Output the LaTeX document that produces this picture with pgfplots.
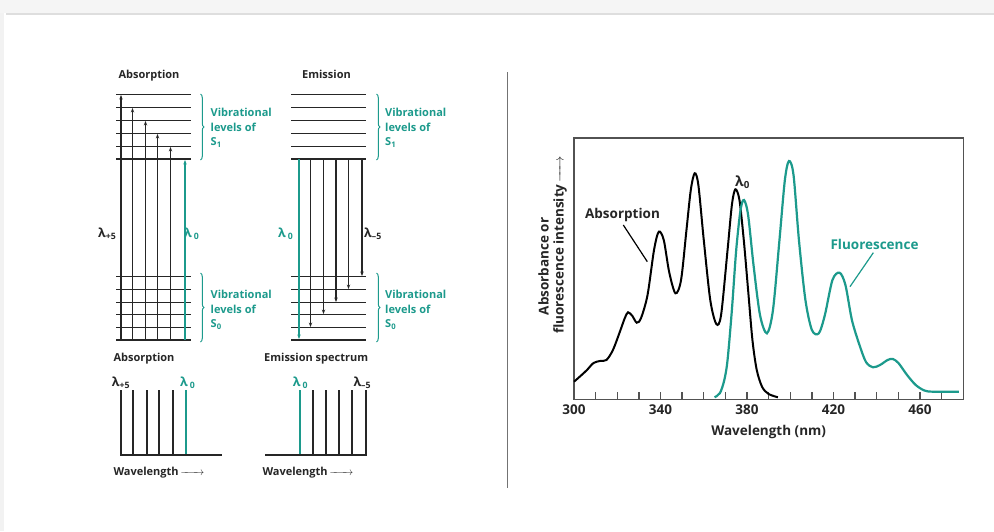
\documentclass[border=0pt]{standalone}
\usepackage{fontspec}
\setmainfont{Open Sans}
\usepackage{pgfplots}
\pgfplotsset{compat=1.18}
\usetikzlibrary{arrows.meta,decorations.pathreplacing}
\definecolor{tl}{RGB}{28,154,140}
\definecolor{dk}{RGB}{38,38,38}
\newcommand{\fs}[1]{\fontsize{#1}{#1}\selectfont\bfseries}
\newcommand{\longarr}[1]{\hbox to #1{\rightarrowfill}}
\pgfplotsset{
  lev/.style={dk, line width=1.85pt},
  gnd/.style={dk, line width=2.5pt},
  vl/.style={dk, line width=1.4pt},
  ar/.style={-{Stealth[length=4.5pt,width=3.4pt]}},
}
\begin{document}
\begin{tikzpicture}
\begin{axis}[name=bg, at={(0,0)}, anchor=south west, scale only axis,
  width=994pt, height=531pt, xmin=0, xmax=994, ymin=0, ymax=531,
  y dir=reverse, hide axis, clip=false]
% page background
\addplot[fill=white, draw=none] coordinates {(0,0) (994,0) (994,531) (0,531)} -- cycle;
\addplot[fill=black!4, draw=none] coordinates {(0,0) (994,0) (994,13) (0,13)} -- cycle;
\addplot[black!13, line width=1.5pt] coordinates {(6,13.8) (994,13.8)};
\addplot[fill=black!5, draw=none] coordinates {(0,13) (4,13) (4,531) (0,531)} -- cycle;
% divider
\addplot[black!55, line width=0.8pt] coordinates {(507.3,72) (507.3,488)};

% ===== energy diagrams =====
\pgfplotsinvokeforeach{94.5,107.5,120.5,133.5,146.5,276.5,289.5,302.5,314.5,327.5}{
  \addplot[lev] coordinates {(116,#1) (191,#1)};
  \addplot[lev] coordinates {(291,#1) (366,#1)};
}
\addplot[gnd] coordinates {(116,159) (191,159)};
\addplot[gnd] coordinates {(116,340) (191,340)};
\addplot[gnd] coordinates {(291,159) (366,159)};
\addplot[gnd] coordinates {(291,340) (366,340)};
% absorption arrows
\addplot[vl, ar] coordinates {(121,340) (121,95)};
\addplot[vl, ar] coordinates {(132.5,340) (132.5,108)};
\addplot[vl, ar] coordinates {(145.5,340) (145.5,121)};
\addplot[vl, ar] coordinates {(157.5,340) (157.5,134)};
\addplot[vl, ar] coordinates {(170.5,340) (170.5,147)};
\addplot[tl, line width=1.5pt, ar] coordinates {(185,340) (185,160)};
% emission arrows
\addplot[tl, line width=1.5pt, ar] coordinates {(299,159) (299,339)};
\addplot[vl, ar] coordinates {(310.5,159) (310.5,327)};
\addplot[vl, ar] coordinates {(323.5,159) (323.5,314)};
\addplot[vl, ar] coordinates {(336,159) (336,302)};
\addplot[vl, ar] coordinates {(348.5,159) (348.5,289)};
\addplot[vl, ar] coordinates {(362,159) (362,276)};
% braces
\draw[tl, line width=1pt, decorate, decoration={brace, amplitude=3.5pt}] (axis cs:200.5,94) -- (axis cs:200.5,160);
\draw[tl, line width=1pt, decorate, decoration={brace, amplitude=3.5pt}] (axis cs:200.5,273) -- (axis cs:200.5,342);
\draw[tl, line width=1pt, decorate, decoration={brace, amplitude=3.5pt}] (axis cs:376.5,94) -- (axis cs:376.5,160);
\draw[tl, line width=1pt, decorate, decoration={brace, amplitude=3.5pt}] (axis cs:376.5,273) -- (axis cs:376.5,342);
% titles
\node[anchor=base, inner sep=0, font=\fs{11}, text=dk] at (axis cs:149,78.5) {Absorption};
\node[anchor=base, inner sep=0, font=\fs{11}, text=dk] at (axis cs:326.5,78.5) {Emission};
% brace texts
\pgfplotsinvokeforeach{210.5,385}{
  \node[anchor=base west, inner sep=0, font=\fs{11}, text=tl] at (axis cs:#1,116.5) {Vibrational};
  \node[anchor=base west, inner sep=0, font=\fs{11}, text=tl] at (axis cs:#1,131.5) {levels of};
  \node[anchor=base west, inner sep=0, font=\fs{11}, text=tl] at (axis cs:#1,145.5) {S\textsubscript{1}};
  \node[anchor=base west, inner sep=0, font=\fs{11}, text=tl] at (axis cs:#1,298.3) {Vibrational};
  \node[anchor=base west, inner sep=0, font=\fs{11}, text=tl] at (axis cs:#1,313.3) {levels of};
  \node[anchor=base west, inner sep=0, font=\fs{11}, text=tl] at (axis cs:#1,327.3) {S\textsubscript{0}};
}
% lambda labels (diagram)
\node[anchor=base west, inner sep=0, font=\fs{12.5}, text=dk] at (axis cs:98,237) {λ\textsubscript{+5}};
\node[anchor=base west, inner sep=0, font=\fs{12.5}, text=tl] at (axis cs:184,237) {λ\,\textsubscript{0}};
\node[anchor=base west, inner sep=0, font=\fs{12.5}, text=tl] at (axis cs:278,237) {λ\,\textsubscript{0}};
\node[anchor=base west, inner sep=0, font=\fs{12.5}, text=dk] at (axis cs:364,237) {λ\textsubscript{–5}};

% ===== line spectra =====
\node[anchor=base west, inner sep=0, font=\fs{11}, text=dk] at (axis cs:113.3,361.5) {Absorption};
\node[anchor=base west, inner sep=0, font=\fs{11}, text=dk] at (axis cs:264,361.5) {Emission spectrum};
\node[anchor=base west, inner sep=0, font=\fs{12.5}, text=dk] at (axis cs:111.7,386) {λ\textsubscript{+5}};
\node[anchor=base west, inner sep=0, font=\fs{12.5}, text=tl] at (axis cs:180,386) {λ\,\textsubscript{0}};
\node[anchor=base west, inner sep=0, font=\fs{12.5}, text=tl] at (axis cs:292.7,386) {λ\,\textsubscript{0}};
\node[anchor=base west, inner sep=0, font=\fs{12.5}, text=dk] at (axis cs:353.3,386) {λ\textsubscript{–5}};
\addplot[gnd, line width=2pt] coordinates {(120.7,390) (120.7,455) (221.7,455)};
\pgfplotsinvokeforeach{133.3,146.7,159.3,172.7}{
  \addplot[dk, line width=1.9pt] coordinates {(#1,390) (#1,455)};
}
\addplot[tl, line width=1.9pt] coordinates {(186,390) (186,454)};
\addplot[gnd, line width=2pt] coordinates {(265,455) (365.7,455) (365.7,390)};
\pgfplotsinvokeforeach{312.7,326,339.3,352.3}{
  \addplot[dk, line width=1.9pt] coordinates {(#1,390) (#1,455)};
}
\addplot[tl, line width=1.9pt] coordinates {(300,390) (300,454)};
\node[anchor=base west, inner sep=0, font=\fs{11}, text=dk] at (axis cs:113.3,475) {Wavelength\,\longarr{24pt}};
\node[anchor=base west, inner sep=0, font=\fs{11}, text=dk] at (axis cs:262.3,475) {Wavelength\,\longarr{24pt}};

% ===== spectrum chart annotations =====
\node[rotate=90, inner sep=0, font=\fs{13.5}, text=dk] at (axis cs:543.5,266.5) {Absorbance or};
\node[rotate=90, inner sep=0, font=\fs{13.5}, text=dk] at (axis cs:560,245) {fluorescence intensity\,\longarr{26pt}};
\node[inner sep=0, font=\fs{13.5}, text=dk] at (axis cs:622.5,215) {Absorption};
\node[inner sep=0, font=\fs{14}, text=dk] at (axis cs:742.5,182) {λ\textsubscript{0}};
\node[inner sep=0, font=\fs{13.5}, text=tl] at (axis cs:874.5,244) {Fluorescence};
\end{axis}

\begin{axis}[at={(574pt,131.7pt)}, anchor=south west, scale only axis,
  width=389.3pt, height=261pt, xmin=300, xmax=480, ymin=0, ymax=261,
  axis line style={black!68, line width=1.6pt},
  xtick={300,340,...,460}, minor xtick={310,320,...,470}, ytick=\empty,
  tick align=inside, xtick pos=bottom,
  major tick length=7pt, minor tick length=7pt,
  tick style={black!68, line width=1.4pt},
  every minor tick/.style={black!68, line width=1.4pt},
  xticklabel style={font=\fs{13.5}, text=dk, yshift=-1.5pt},
  /pgf/number format/assume math mode=true, /pgf/number format/1000 sep={},
  xlabel={Wavelength (nm)},
  xlabel style={font=\fs{13.5}, text=dk, at={(axis description cs:0.5,0)}, anchor=center, yshift=-32.7pt},
  clip=false]
\addplot[black, line width=2pt, smooth, tension=0.5] coordinates {
(300,17.6) (303,23.3) (306,29.3) (309,36.3) (312,38.3) (315,39.3) (318,49.3)
(321,66.3) (323.5,81.3) (325,87) (327,83.3) (329,76.6) (331,81.3) (334,104.3)
(337,149.3) (339.2,167.6) (341.5,159.3) (344,127.3) (346.9,106) (349.5,119.3)
(352,169.3) (354,209.3) (355.8,226) (357.5,214.3) (360,159.3) (363,99.3)
(365.8,75.3) (368,84.3) (371,149.3) (373,194.3) (374.6,210) (376.5,199.3)
(378.5,159.3) (380.5,109.3) (382.5,59.3) (384.5,29.3) (387,12.3) (390,5.3) (394.3,2)
};
\addplot[tl, line width=2.2pt, smooth, tension=0.5] coordinates {
(365,2) (367.5,6.3) (369.5,19.3) (371,39.3) (373,89.3) (375,149.3) (377,189.3)
(378.6,199.3) (380.5,184.3) (383,134.3) (386,84.3) (389.2,66) (392,89.3)
(395,159.3) (397.5,219.3) (399.4,238.3) (401.5,224.3) (404,159.3) (407,99.3)
(410,69.3) (413.2,66) (416,84.3) (419.5,119.3) (422.8,126.6) (425.5,114.3)
(428.5,79.3) (432,54.3) (435,37.3) (438.2,32) (441.5,34.3) (445,39.3)
(447.4,40.3) (450,36.3) (454,24.3) (458,14.3) (462,8.8) (466,7.6) (478,7.6)
};
% leader lines
\addplot[black, line width=1.2pt] coordinates {(322.8,174.3) (333.9,137.6)};
\addplot[tl, line width=1.2pt] coordinates {(438.4,146.6) (427.6,112.6)};
\end{axis}
\pgfresetboundingbox
\path[use as bounding box] (0,0) rectangle (994pt,531pt);
\end{tikzpicture}
\end{document}
